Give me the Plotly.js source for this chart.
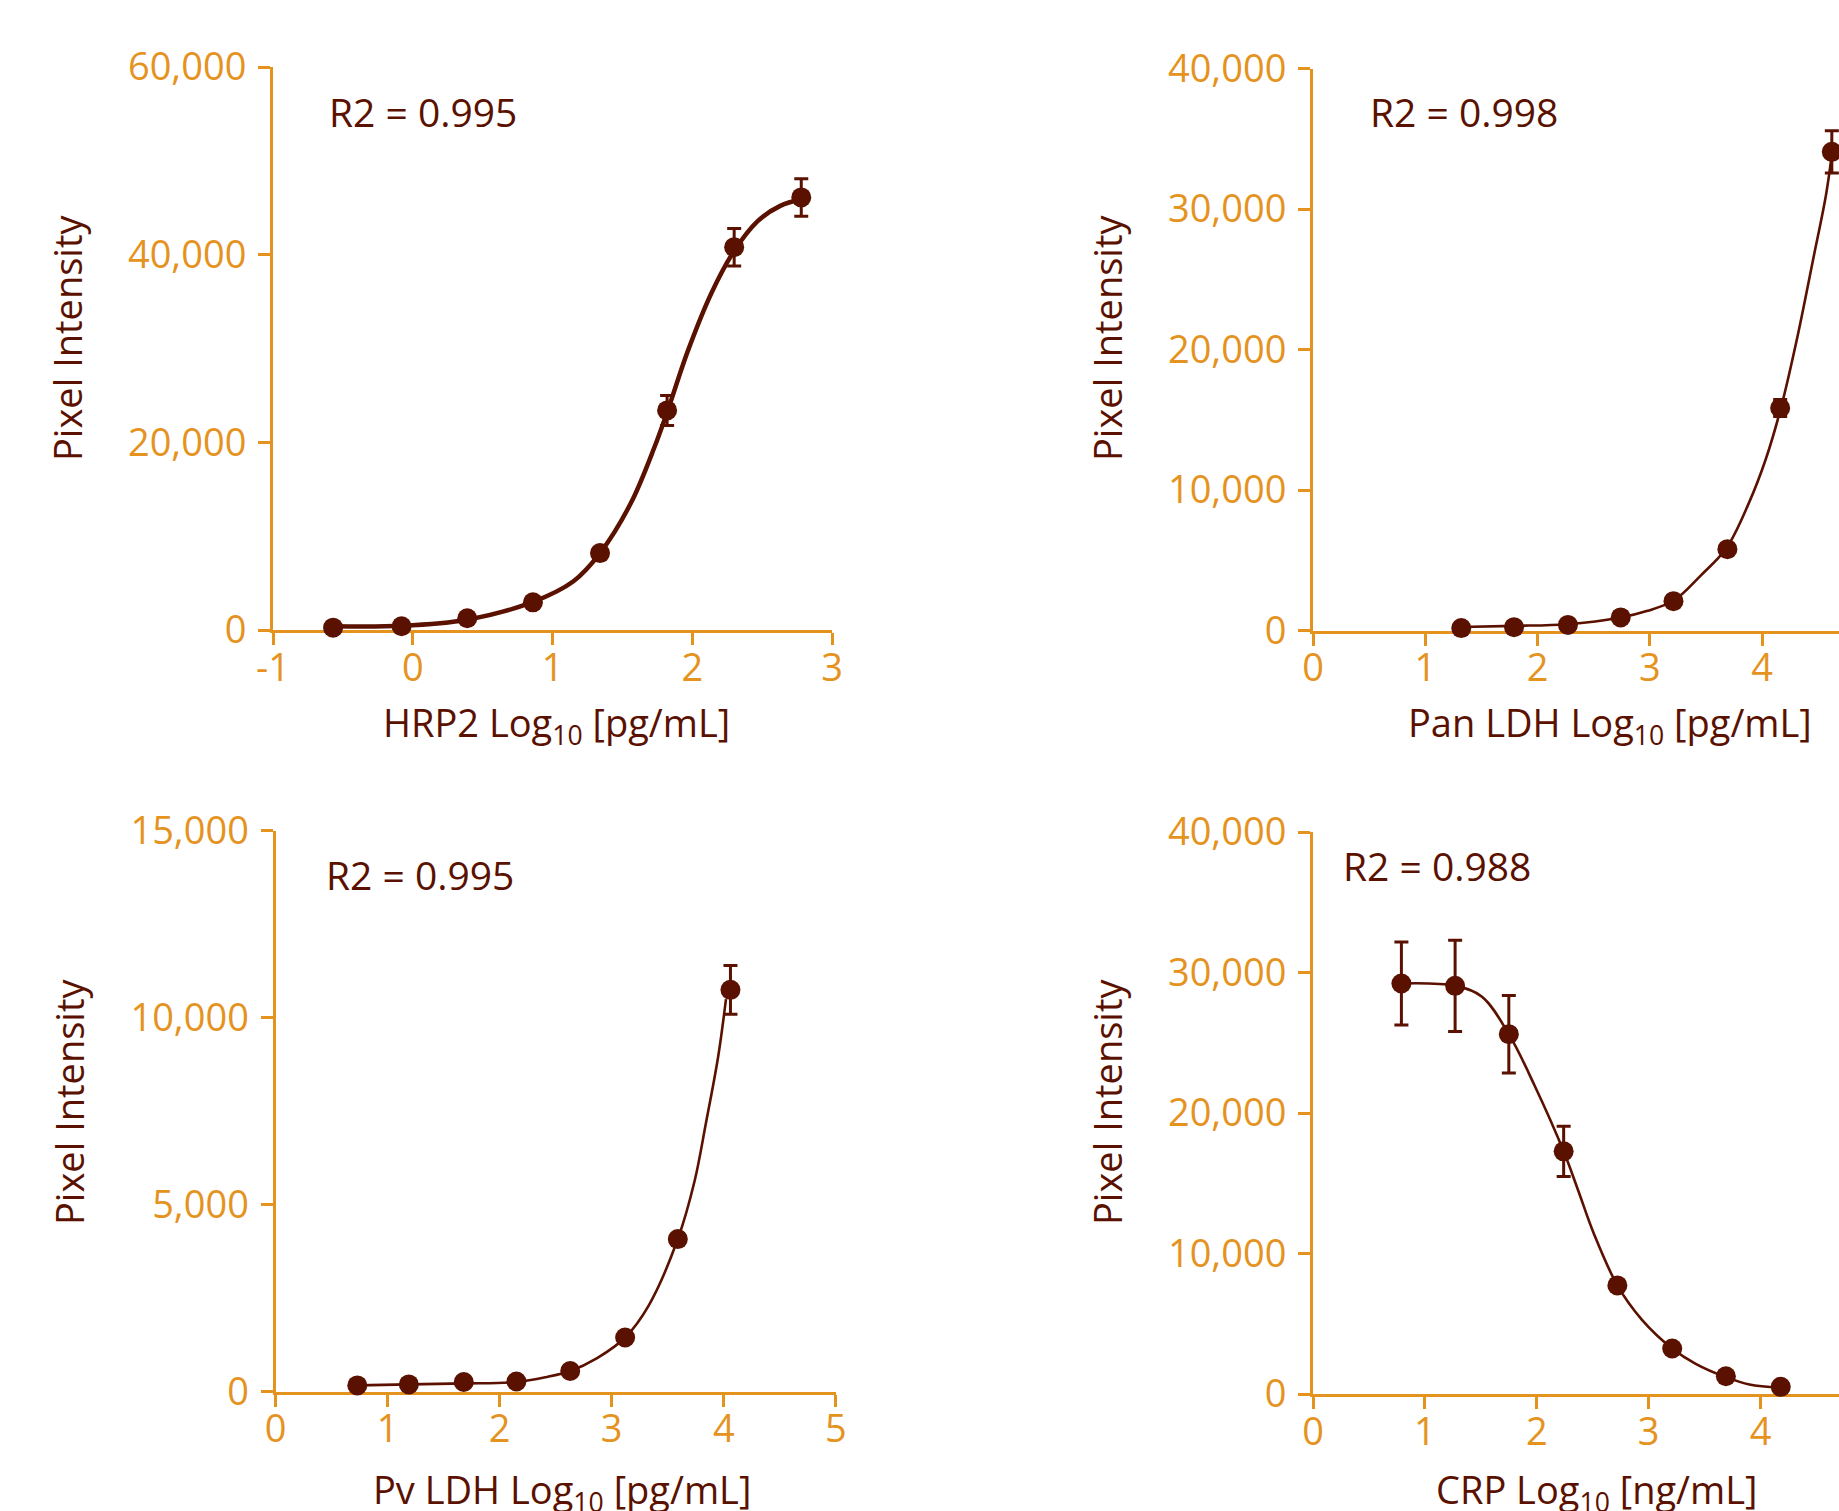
<!DOCTYPE html>
<html>
<head>
<meta charset="utf-8">
<script src="https://cdn.plot.ly/plotly-3.0.1.min.js"></script>
<style>
  html, body { margin: 0; padding: 0; background: #ffffff; overflow: hidden; }
  #chart { width: 1900px; height: 1511px; }
</style>
</head>
<body>
<div id="chart"></div>
<script>
// ---------- data ----------
// HRP2 panel
const hrp2X   = [-0.57, -0.08, 0.39, 0.86, 1.34, 1.82, 2.30, 2.78];
const hrp2Y   = [250, 400, 1250, 2950, 8200, 23400, 40800, 46100];
const hrp2Err = [0, 0, 0, 0, 0, 1600, 2000, 2000];
const hrp2FitX = [-0.57, -0.08, 0.39, 0.86, 1.15, 1.34, 1.56, 1.73, 1.82, 1.97, 2.14, 2.30, 2.47, 2.63, 2.78];
const hrp2FitY = [400, 450, 1100, 3000, 5200, 8200, 13500, 19500, 23200, 29800, 36000, 40400, 43600, 45200, 45900];

// Pan LDH panel
const panX   = [1.32, 1.79, 2.27, 2.74, 3.21, 3.69, 4.16, 4.62];
const panY   = [170, 240, 400, 930, 2090, 5790, 15840, 34070];
const panErr = [0, 0, 0, 0, 0, 0, 600, 1500];
const panFitX = [1.32, 1.79, 2.26, 2.74, 2.98, 3.22, 3.45, 3.68, 3.88, 4.03, 4.17, 4.31, 4.45, 4.57, 4.62];
const panFitY = [250, 330, 450, 930, 1400, 2170, 3890, 5850, 9050, 12150, 15940, 20760, 26270, 31090, 33900];

// Pv LDH panel
const pvX   = [0.73, 1.19, 1.68, 2.15, 2.63, 3.12, 3.59, 4.06];
const pvY   = [166, 192, 256, 270, 550, 1446, 4078, 10740];
const pvErr = [0, 0, 0, 0, 0, 0, 0, 650];
const pvFitX = [0.73, 1.19, 1.68, 2.15, 2.41, 2.63, 2.87, 3.12, 3.33, 3.59, 3.74, 3.84, 3.95, 4.02];
const pvFitY = [166, 192, 219, 257, 385, 550, 895, 1446, 2300, 4078, 5630, 7160, 8950, 10490];

// CRP panel
const crpX   = [0.79, 1.27, 1.75, 2.24, 2.72, 3.21, 3.69, 4.18];
const crpY   = [29220, 29050, 25610, 17270, 7730, 3240, 1260, 510];
const crpErr = [2950, 3250, 2760, 1790, 0, 0, 0, 0];
const crpFitX = [0.79, 1.27, 1.51, 1.75, 1.98, 2.24, 2.37, 2.51, 2.72, 2.94, 3.21, 3.42, 3.69, 3.90, 4.18];
const crpFitY = [29220, 29050, 28270, 25610, 21960, 17270, 14480, 11410, 7730, 5280, 3240, 2150, 1200, 680, 450];

// tick labels
const hrp2XTicks = [-1, 0, 1, 2, 3];
const hrp2XTickText = ['-1', '0', '1', '2', '3'];
const ldhXTicks = [0, 1, 2, 3, 4, 5];
const ldhXTickText = ['0', '1', '2', '3', '4', '5'];

// texts
const r2Labels = ['R2 = 0.995', 'R2 = 0.998', 'R2 = 0.995', 'R2 = 0.988'];
const xTitles = [
  'HRP2 Log<sub>10</sub> [pg/mL]',
  'Pan LDH Log<sub>10</sub> [pg/mL]',
  'Pv LDH Log<sub>10</sub> [pg/mL]',
  'CRP Log<sub>10</sub> [ng/mL]'
];
const yTitle = 'Pixel Intensity';

// ---------- styling ----------
const ORANGE = '#E5931F';
const BROWN = '#5A1100';
const FONT = 'Open Sans, Noto Sans, sans-serif';
const W = 1900, H = 1511;

function fitTrace(x, y, ax, width) {
  return {x: x, y: y, xaxis: 'x' + ax, yaxis: 'y' + ax, type: 'scatter', mode: 'lines',
    line: {color: BROWN, width: width, shape: 'spline', smoothing: 1}, hoverinfo: 'skip', showlegend: false};
}
function ptTrace(x, y, err, ax) {
  return {x: x, y: y, xaxis: 'x' + ax, yaxis: 'y' + ax, type: 'scatter', mode: 'markers',
    marker: {color: BROWN, size: 20}, cliponaxis: false, showlegend: false,
    error_y: {type: 'data', array: err, visible: true, color: BROWN, thickness: 3, width: 7}};
}

const traces = [
  fitTrace(hrp2FitX, hrp2FitY, '', 4.5), ptTrace(hrp2X, hrp2Y, hrp2Err, ''),
  fitTrace(panFitX, panFitY, '2', 2.6), ptTrace(panX, panY, panErr, '2'),
  fitTrace(pvFitX, pvFitY, '3', 2.6), ptTrace(pvX, pvY, pvErr, '3'),
  fitTrace(crpFitX, crpFitY, '4', 2.6), ptTrace(crpX, crpY, crpErr, '4')
];

function px2fx(px) { return px / W; }
function py2fy(py) { return 1 - py / H; }

function xAxis(d0, d1, range, tv, tt, anchor) {
  return {domain: [px2fx(d0), px2fx(d1)], range: range, anchor: anchor,
    tickmode: 'array', tickvals: tv, ticktext: tt,
    showline: true, linecolor: ORANGE, linewidth: 3,
    ticks: 'outside', ticklen: 12, tickwidth: 3, tickcolor: ORANGE,
    showgrid: false, zeroline: false, layer: 'below traces',
    tickfont: {family: FONT, size: 38, color: ORANGE}, ticklabelstandoff: -10};
}
function yAxis(top, bottom, range, dtick, anchor) {
  return {domain: [py2fy(bottom), py2fy(top)], range: range, anchor: anchor,
    tick0: 0, dtick: dtick, tickformat: ',d',
    showline: true, linecolor: ORANGE, linewidth: 3,
    ticks: 'outside', ticklen: 12, tickwidth: 3, tickcolor: ORANGE,
    showgrid: false, zeroline: false, layer: 'below traces',
    tickfont: {family: FONT, size: 38, color: ORANGE}, ticklabelstandoff: 4};
}

function ann(text, x, y, opts) {
  return Object.assign({text: text, x: px2fx(x), y: py2fy(y), xref: 'paper', yref: 'paper',
    showarrow: false, font: {family: FONT, size: 38, color: BROWN}}, opts);
}

const R2FONT = {family: FONT, size: 39, color: BROWN};
const annotations = [
  ann(r2Labels[0], 327, 111, {xanchor: 'left', yanchor: 'middle', font: R2FONT}),
  ann(r2Labels[1], 1368, 111, {xanchor: 'left', yanchor: 'middle', font: R2FONT}),
  ann(r2Labels[2], 324, 875, {xanchor: 'left', yanchor: 'middle', font: R2FONT}),
  ann(r2Labels[3], 1341, 865, {xanchor: 'left', yanchor: 'middle', font: R2FONT}),
  ann(yTitle, 67, 338, {xanchor: 'center', yanchor: 'middle', textangle: -90}),
  ann(yTitle, 1107, 338, {xanchor: 'center', yanchor: 'middle', textangle: -90}),
  ann(yTitle, 69, 1102, {xanchor: 'center', yanchor: 'middle', textangle: -90}),
  ann(yTitle, 1107, 1102, {xanchor: 'center', yanchor: 'middle', textangle: -90}),
  ann(xTitles[0], 556, 724, {xanchor: 'center', yanchor: 'middle'}),
  ann(xTitles[1], 1610, 724, {xanchor: 'center', yanchor: 'middle'}),
  ann(xTitles[2], 562, 1491, {xanchor: 'center', yanchor: 'middle'}),
  ann(xTitles[3], 1597, 1491, {xanchor: 'center', yanchor: 'middle'})
];

const layout = {
  width: W, height: H,
  margin: {l: 0, r: 0, t: 0, b: 0, pad: 0},
  paper_bgcolor: '#ffffff', plot_bgcolor: 'rgba(0,0,0,0)',
  showlegend: false,
  font: {family: FONT, color: BROWN},
  xaxis:  xAxis(273, 832, [-1, 3], hrp2XTicks, hrp2XTickText, 'y'),
  yaxis:  yAxis(67, 630, [0, 60000], 20000, 'x'),
  xaxis2: xAxis(1313, 1874.5, [0, 5], ldhXTicks, ldhXTickText, 'y2'),
  yaxis2: yAxis(68.5, 630.5, [0, 40000], 10000, 'x2'),
  xaxis3: xAxis(275.5, 835.8, [0, 5], ldhXTicks, ldhXTickText, 'y3'),
  yaxis3: yAxis(830.5, 1391.6, [0, 15000], 5000, 'x3'),
  xaxis4: xAxis(1313, 1872.5, [0, 5], ldhXTicks, ldhXTickText, 'y4'),
  yaxis4: yAxis(832, 1394, [0, 40000], 10000, 'x4'),
  annotations: annotations
};

Plotly.newPlot('chart', traces, layout, {staticPlot: true, displayModeBar: false});
</script>
</body>
</html>
